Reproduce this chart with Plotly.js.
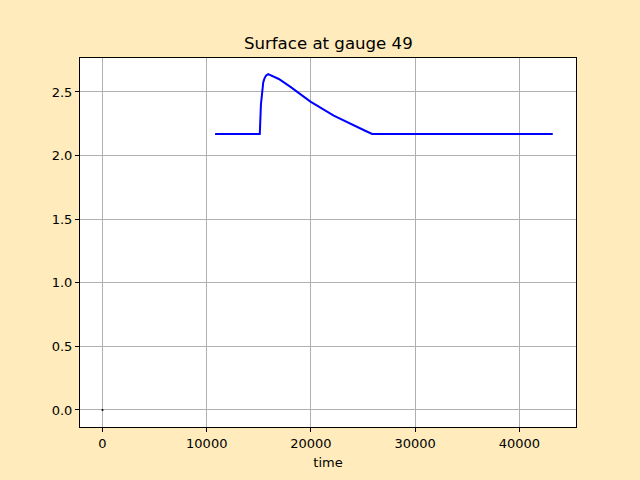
<!DOCTYPE html>
<html><head><meta charset="utf-8">
<script src="https://cdn.plot.ly/plotly-3.0.1.min.js"></script>
<style>body{margin:0;background:#ffebbb}</style>
</head><body><div id="plot" style="width:640px;height:480px"></div>
<script>
const timeVals = [10800, 15089, 15200, 15319, 15420, 15540, 15700, 15894, 16278, 16912, 18034, 19952, 22187, 24269, 25200, 25871, 43200];
const surfaceVals = [2.17, 2.17, 2.40, 2.52, 2.575, 2.607, 2.63, 2.64, 2.626, 2.602, 2.54, 2.424, 2.314, 2.228, 2.195, 2.17, 2.17];
const dotX = [0];
const dotY = [0];

const traces = [
  {x: timeVals, y: surfaceVals, mode: 'lines', line: {color: '#0000ff', width: 2}, hoverinfo: 'none'},
  {x: dotX, y: dotY, mode: 'markers', marker: {color: '#000000', size: 2}, hoverinfo: 'none'}
];
const axisCommon = {
  showgrid: true, gridcolor: '#b0b0b0', gridwidth: 1,
  showline: true, linecolor: '#000000', linewidth: 1, mirror: true,
  ticks: 'outside', ticklen: 4, tickcolor: '#000000',
  zeroline: false, tickfont: {family: 'DejaVu Sans', size: 13, color: '#000'}
};
const layout = {
  width: 640, height: 480,
  paper_bgcolor: '#ffebbb', plot_bgcolor: '#ffffff',
  margin: {l: 80, r: 64, t: 58, b: 53},
  showlegend: false,
  font: {family: 'DejaVu Sans', color: '#000'},
  title: {text: 'Surface at gauge 49', font: {family: 'DejaVu Sans', size: 16.6, color: '#000'}, x: 0.513, xanchor: 'center', y: 0.91, yanchor: 'middle'},
  xaxis: Object.assign({}, axisCommon, {range: [-2160, 45430], tickvals: [0, 10000, 20000, 30000, 40000], ticktext: ['0','10000','20000','30000','40000'], title: {text: 'time', font: {family: 'DejaVu Sans', size: 13}, standoff: 8}}),
  yaxis: Object.assign({}, axisCommon, {range: [-0.134, 2.767], tickvals: [0, 0.5, 1, 1.5, 2, 2.5], ticktext: ['0.0','0.5','1.0','1.5','2.0','2.5']})
};
Plotly.newPlot('plot', traces, layout, {displayModeBar: false, staticPlot: true});
</script></body></html>
